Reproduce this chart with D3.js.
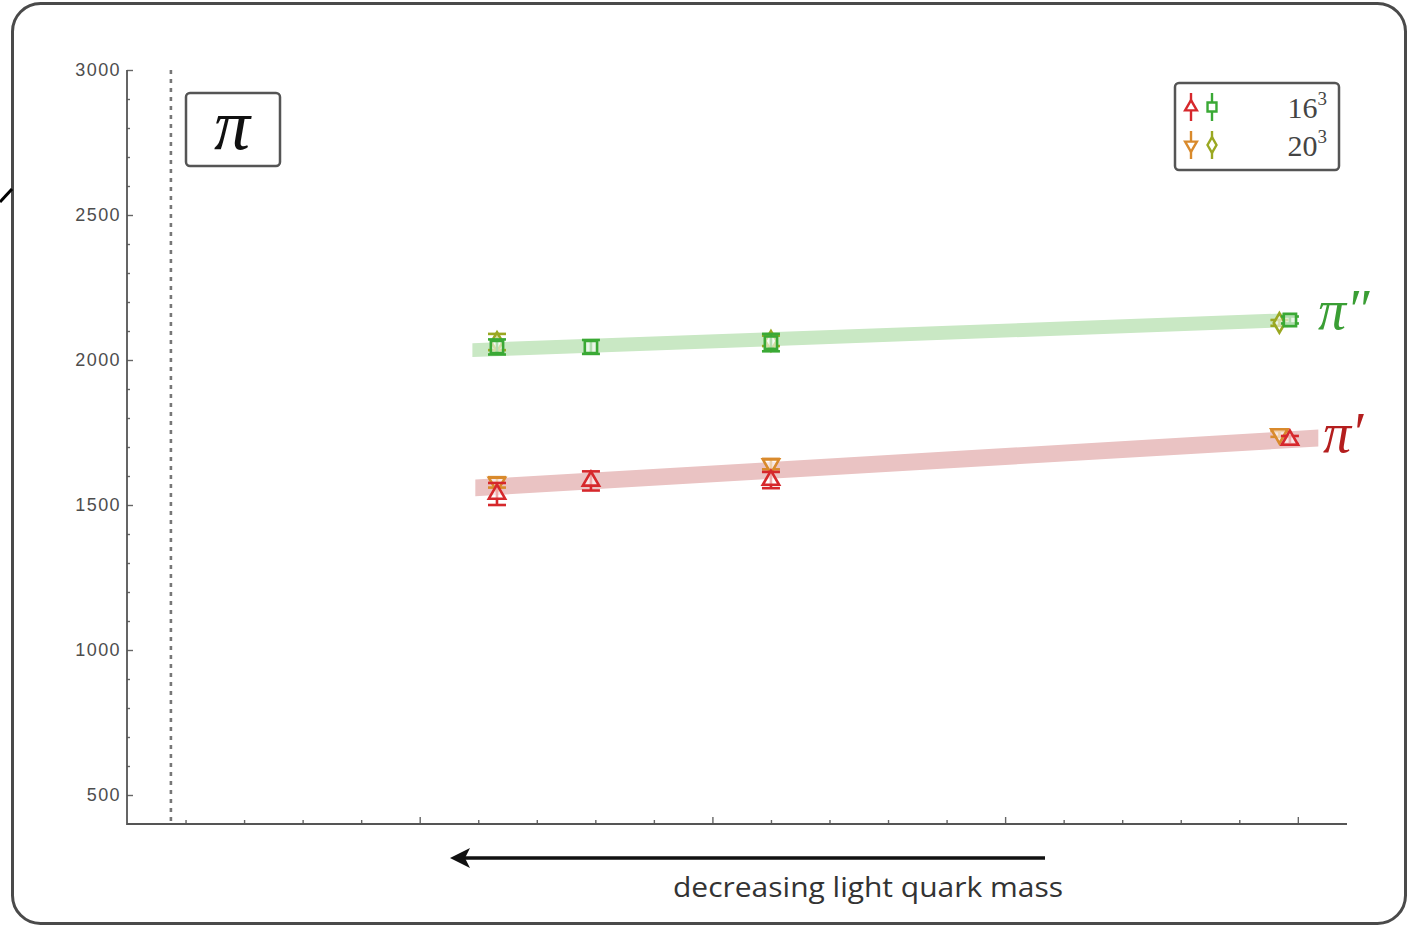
<!DOCTYPE html>
<html>
<head>
<meta charset="utf-8">
<script src="https://cdn.jsdelivr.net/npm/d3@7"></script>
<style>
  body { margin: 0; background: #fff; }
  svg { display: block; }
</style>
</head>
<body>
<div id="chart"></div>
<script>
// x positions (arbitrary units, no labels on the axis)
var x16 = [1.264, 1.585, 2.200, 3.973];
var x20 = [1.264, 2.200, 3.937];

// pi' (first excited) masses, MeV
var piP16     = [1538, 1583, 1586, 1724];
var piP16err  = [38, 33, 28, 14];
var piP20     = [1578, 1641, 1745];
var piP20err  = [18, 18, 10];

// pi'' (second excited) masses, MeV
var piPP16    = [2045, 2045, 2060, 2138];
var piPP16err = [26, 24, 30, 12];
var piPP20    = [2062, 2066, 2128];
var piPP20err = [28, 18, 10];

// fitted bands: [x, centre] at both ends, half width
var bandP   = [[1.19, 1559], [4.07, 1731]];
var bandPP  = [[1.18, 2034], [3.99, 2138]];
var bandPw  = 29;
var bandPPw = 24;

var yTicks = [500, 1000, 1500, 2000, 2500, 3000];
var xMajor = [1, 2, 3, 4];
var physX  = 0.15;

var width = 1408, height = 932;

var red    = "#d6282c";
var orange = "#d98a2c";
var green  = "#3aa935";
var olive  = "#9aa822";

var svg = d3.select("#chart").append("svg")
            .attr("width", width)
            .attr("height", height);

var x = d3.scaleLinear().domain([0, 4.168]).range([127, 1347]);
var y = d3.scaleLinear().domain([400, 3000]).range([824, 70]);

// outer frame
svg.append("rect")
   .attr("x", 12.5).attr("y", 3.5)
   .attr("width", 1393).attr("height", 920)
   .attr("rx", 28)
   .attr("fill", "none")
   .attr("stroke", "#4a4a4a")
   .attr("stroke-width", 3);
svg.append("line")
   .attr("x1", 0).attr("y1", 202).attr("x2", 12).attr("y2", 189)
   .attr("stroke", "#000").attr("stroke-width", 3);

// axes
var yMinor = d3.range(500, 3000, 100).filter(function(d) { return d % 500 != 0; });
var xMinor = d3.range(1, 21).map(function(d) { return d * 0.2; })
               .filter(function(d) { return Math.abs(d - Math.round(d)) > 1e-6; });

var yAxis = svg.append("g")
               .attr("transform", "translate(" + x(0) + ",0)")
               .call(d3.axisRight(y).tickValues(yTicks).tickSize(6).tickFormat(""));
var yAxisMinor = svg.append("g")
               .attr("transform", "translate(" + x(0) + ",0)")
               .call(d3.axisRight(y).tickValues(yMinor).tickSize(3).tickFormat(""));
var xAxis = svg.append("g")
               .attr("transform", "translate(0," + y(400) + ")")
               .call(d3.axisTop(x).tickValues(xMajor).tickSize(7).tickFormat(""));
var xAxisMinor = svg.append("g")
               .attr("transform", "translate(0," + y(400) + ")")
               .call(d3.axisTop(x).tickValues(xMinor).tickSize(4).tickFormat(""));

[yAxis, yAxisMinor, xAxis, xAxisMinor].forEach(function(g) {
  g.select(".domain").remove();
  g.selectAll("line").attr("stroke", "#666").attr("stroke-width", 1.4);
});
svg.append("path")
   .attr("d", "M" + x(0) + "," + y(3000) + "V" + y(400) + "H" + x(4.168))
   .attr("fill", "none").attr("stroke", "#555").attr("stroke-width", 1.8);

svg.append("g").selectAll("text")
   .data(yTicks).enter().append("text")
   .attr("x", 121)
   .attr("y", function(d) { return y(d) + 6; })
   .attr("text-anchor", "end")
   .style("font-family", "Liberation Sans, Arial, sans-serif")
   .style("font-size", "18px")
   .style("letter-spacing", "1.4px")
   .style("fill", "#4d4d4d")
   .text(function(d) { return d; });

// dotted line at the physical point
svg.append("line")
   .attr("x1", x(physX)).attr("x2", x(physX))
   .attr("y1", y(3000)).attr("y2", y(410))
   .attr("stroke", "#777")
   .attr("stroke-width", 2.6)
   .attr("stroke-dasharray", "4,5");

// bands
function drawBand(b, w, col) {
  var pts = [[b[0][0], b[0][1] + w], [b[1][0], b[1][1] + w],
             [b[1][0], b[1][1] - w], [b[0][0], b[0][1] - w]];
  svg.append("path")
     .attr("d", d3.line().x(function(d) { return x(d[0]); }).y(function(d) { return y(d[1]); })(pts) + "Z")
     .attr("fill", col);
}
drawBand(bandPP, bandPPw, "#c9e8c4");
drawBand(bandP, bandPw, "#eac3c3");

// points with error bars
var symbols = {
  up:      d3.symbol().type(d3.symbolTriangle).size(115),
  down:    d3.symbol().type(d3.symbolTriangle).size(115),
  square:  d3.symbol().type(d3.symbolSquare).size(150),
  diamond: d3.symbol().type(d3.symbolDiamond).size(110)
};

function drawSeries(xs, vals, errs, col, shape) {
  var data = xs.map(function(d, i) { return {x: d, v: vals[i], e: errs[i]}; });
  var g = svg.append("g");
  var p = g.selectAll("g").data(data).enter().append("g")
           .attr("transform", function(d) { return "translate(" + x(d.x) + ",0)"; });
  p.append("line")
   .attr("y1", function(d) { return y(d.v - d.e); })
   .attr("y2", function(d) { return y(d.v + d.e); })
   .attr("stroke", col).attr("stroke-width", 2.6);
  [-1, 1].forEach(function(s) {
    p.append("line")
     .attr("x1", -9).attr("x2", 9)
     .attr("y1", function(d) { return y(d.v + s * d.e); })
     .attr("y2", function(d) { return y(d.v + s * d.e); })
     .attr("stroke", col).attr("stroke-width", 2.6);
  });
  p.append("path")
   .attr("d", symbols[shape]())
   .attr("transform", function(d) {
     return "translate(0," + y(d.v) + ")" + (shape == "down" ? " rotate(180)" : "");
   })
   .attr("fill", "#fff")
   .attr("fill-opacity", 0.6)
   .attr("stroke", col)
   .attr("stroke-width", 2.6);
}

drawSeries(x20, piPP20, piPP20err, olive, "diamond");
drawSeries(x16, piPP16, piPP16err, green, "square");
drawSeries(x20, piP20, piP20err, orange, "down");
drawSeries(x16, piP16, piP16err, red, "up");

// state labels
svg.append("text")
   .attr("x", 1318).attr("y", 329)
   .style("font-family", "Liberation Serif, Times New Roman, serif")
   .style("font-style", "italic")
   .style("font-size", "56px")
   .style("fill", "#3a9e34")
   .text("\u03C0\u2033");
svg.append("text")
   .attr("x", 1323).attr("y", 452)
   .style("font-family", "Liberation Serif, Times New Roman, serif")
   .style("font-style", "italic")
   .style("font-size", "56px")
   .style("fill", "#b41e1e")
   .text("\u03C0\u2032");

// pi label box
svg.append("rect")
   .attr("x", 186).attr("y", 93).attr("width", 94).attr("height", 73)
   .attr("rx", 4)
   .attr("fill", "#fff").attr("stroke", "#555").attr("stroke-width", 2.5);
svg.append("text")
   .attr("x", 232).attr("y", 149)
   .attr("text-anchor", "middle")
   .style("font-family", "Liberation Serif, Times New Roman, serif")
   .style("font-style", "italic")
   .style("font-size", "72px")
   .style("fill", "#111")
   .text("\u03C0");

// legend
var legendRows = [
  {y: 107, label: "16", cols: [[red, "up"], [green, "square"]]},
  {y: 145, label: "20", cols: [[orange, "down"], [olive, "diamond"]]}
];
var legendSym = {
  up:      d3.symbol().type(d3.symbolTriangle).size(60),
  down:    d3.symbol().type(d3.symbolTriangle).size(60),
  square:  d3.symbol().type(d3.symbolSquare).size(80),
  diamond: d3.symbol().type(d3.symbolDiamond).size(70)
};
var legend = svg.append("g");
legend.append("rect")
      .attr("x", 1175).attr("y", 83).attr("width", 164).attr("height", 87)
      .attr("rx", 4)
      .attr("fill", "#fff").attr("stroke", "#555").attr("stroke-width", 2.5);
legendRows.forEach(function(r) {
  r.cols.forEach(function(c, i) {
    var cx = 1191 + i * 21;
    legend.append("line")
          .attr("x1", cx).attr("x2", cx).attr("y1", r.y - 14).attr("y2", r.y + 14)
          .attr("stroke", c[0]).attr("stroke-width", 2.4);
    legend.append("path")
          .attr("d", legendSym[c[1]]())
          .attr("transform", "translate(" + cx + "," + r.y + ")" + (c[1] == "down" ? " rotate(180)" : ""))
          .attr("fill", "#fff").attr("stroke", c[0]).attr("stroke-width", 2.4);
  });
  var t = legend.append("text")
                .attr("x", 1327).attr("y", r.y + 11)
                .attr("text-anchor", "end")
                .style("font-family", "Liberation Serif, Times New Roman, serif")
                .style("font-size", "30px")
                .style("fill", "#444");
  t.append("tspan").text(r.label);
  t.append("tspan").attr("dy", -13).style("font-size", "19px").text("3");
});

// arrow + caption
svg.append("line")
   .attr("x1", 1045).attr("x2", 462).attr("y1", 858).attr("y2", 858)
   .attr("stroke", "#111").attr("stroke-width", 3.5);
svg.append("path")
   .attr("d", "M450,858 L470,848 L465,858 L470,868 Z")
   .attr("fill", "#111");
svg.append("text")
   .attr("x", 868).attr("y", 897)
   .attr("text-anchor", "middle")
   .attr("textLength", 390)
   .attr("lengthAdjust", "spacingAndGlyphs")
   .style("font-family", "Open Sans, Liberation Sans, sans-serif")
   .style("font-size", "28px")
   .style("fill", "#333")
   .text("decreasing light quark mass");
</script>
</body>
</html>
